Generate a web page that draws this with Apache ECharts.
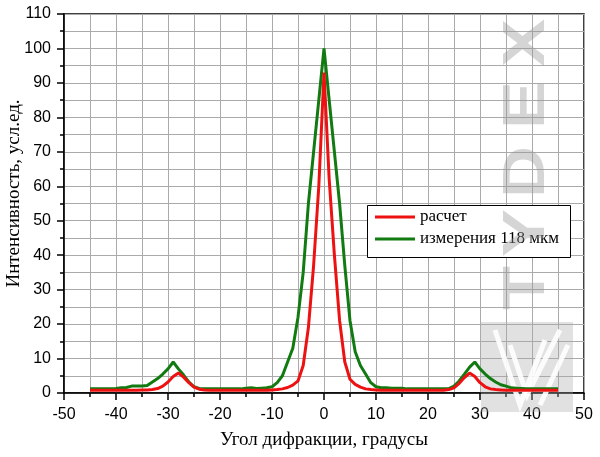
<!DOCTYPE html>
<html><head><meta charset="utf-8">
<script src="https://cdn.jsdelivr.net/npm/echarts@6/dist/echarts.min.js"></script>
<style>html,body{margin:0;padding:0;background:#fff}#c{width:600px;height:457px}</style>
</head><body><div id="c"></div>
<script>
const angles = [];
for (let a = -45; a <= 45; a++) angles.push(a);
const calcValues = [
 0.8,0.8,0.8,0.8,0.8,0.8,0.8,0.8,0.8,0.8,
 0.9,0.9,1.0,1.3,2.0,3.2,4.8,5.8,4.6,3.0,
 1.7,1.1,0.9,0.8,0.8,0.8,0.8,0.8,0.8,0.8,
 0.8,0.8,0.8,0.8,0.8,0.9,1.0,1.2,1.6,2.3,
 3.5,8,19,37,60,93,62,40,21,9,
 4.0,2.5,1.7,1.2,1.0,0.9,0.8,0.8,0.8,0.8,
 0.8,0.8,0.8,0.8,0.8,0.8,0.8,0.8,0.8,1.0,
 1.5,2.8,4.5,5.8,4.8,3.0,1.8,1.2,1.0,0.9,
 0.8,0.8,0.8,0.8,0.8,0.8,0.8,0.8,0.8,0.8,0.8
];
const measValues = [
 1.2,1.2,1.2,1.2,1.2,1.3,1.5,1.6,2.0,2.0,
 2.0,2.2,3.2,4.2,5.5,7.0,9.0,7.0,5.2,3.2,
 1.8,1.3,1.2,1.2,1.2,1.2,1.2,1.2,1.2,1.2,
 1.4,1.5,1.3,1.4,1.5,1.8,3.0,5.0,9.0,13,
 22,35,55,70,85,100,85,70,55,37,
 21,12,8,5.5,3.0,1.8,1.5,1.5,1.4,1.4,
 1.4,1.2,1.2,1.2,1.2,1.2,1.2,1.2,1.2,1.3,
 2.0,3.5,5.5,7.5,9.0,7.0,5.5,4.2,3.2,2.4,
 2.0,1.5,1.4,1.3,1.2,1.2,1.2,1.2,1.2,1.2,1.2
];
const seriesNames = ['расчет', 'измерения 118 мкм'];
const xTitle = 'Угол дифракции, градусы';
const yTitle = 'Интенсивность, усл.ед.';
const watermark = 'TYDEX';

const sans = 'Liberation Sans, Arial, sans-serif';
const serif = 'Liberation Serif, Times New Roman, serif';
const pair = v => angles.map((a, i) => [a, v[i]]);

const letterY = [288, 233, 172, 105, 43];
const wm = watermark.split('').map((ch, i) => ({
  type: 'text', id: 'wm' + i, z: 6, z2: 10, silent: true,
  x: 527, y: letterY[i], rotation: Math.PI / 2, scaleX: 1.2,
  style: { text: ch, font: 'bold 60px ' + sans, fill: 'rgba(150,150,150,0.4)', align: 'center', verticalAlign: 'middle' }
}));

const chart = echarts.init(document.getElementById('c'), null, { renderer: 'canvas' });
chart.setOption({
  animation: false,
  backgroundColor: '#fff',
  grid: { left: 64, right: 16, top: 14, bottom: 64, outerBoundsMode: 'none', containLabel: false,
          show: true, borderColor: '#000', borderWidth: 1.5, backgroundColor: 'transparent' },
  legend: {
    orient: 'vertical', left: 367, top: 205, z: 6,
    padding: [2, 4, 9, 8], itemGap: 2, itemWidth: 40, itemHeight: 3, icon: 'rect',
    backgroundColor: 'transparent', borderWidth: 0,
    textStyle: { fontFamily: serif, fontSize: 17, color: '#000', lineHeight: 20 },
    data: seriesNames
  },
  xAxis: {
    type: 'value', min: -50, max: 50, interval: 10,
    name: xTitle, nameLocation: 'middle', nameGap: 38,
    nameTextStyle: { fontFamily: serif, fontSize: 19, color: '#000' },
    axisLine: { onZero: false, lineStyle: { color: '#000', width: 1.5 } },
    axisTick: { show: true, length: 7, lineStyle: { color: '#000', width: 1.5 } },
    minorTick: { show: true, splitNumber: 2, length: 4, lineStyle: { color: '#000', width: 1.5 } },
    axisLabel: { fontFamily: sans, fontSize: 16, color: '#000', margin: 14 },
    splitLine: { show: true, lineStyle: { color: '#aaa', width: 1 } },
    minorSplitLine: { show: true, lineStyle: { color: '#aaa', width: 1 } }
  },
  yAxis: {
    type: 'value', min: 0, max: 110, interval: 10,
    name: yTitle, nameLocation: 'middle', nameGap: 40, nameMoveOverlap: false,
    nameTextStyle: { fontFamily: serif, fontSize: 19, color: '#000', padding: [0, 0, 0, 20] },
    axisLine: { onZero: false, lineStyle: { color: '#000', width: 1.5 } },
    axisTick: { show: true, length: 7, lineStyle: { color: '#000', width: 1.5 } },
    minorTick: { show: true, splitNumber: 2, length: 4, lineStyle: { color: '#000', width: 1.5 } },
    axisLabel: { fontFamily: sans, fontSize: 16, color: '#000', margin: 13 },
    splitLine: { show: true, lineStyle: { color: '#aaa', width: 1 } },
    minorSplitLine: { show: true, lineStyle: { color: '#aaa', width: 1 } }
  },
  graphic: [
    ...wm,
    { type: 'rect', id: 'legendBox', z: 5, z2: 1, silent: true, shape: { x: 367.5, y: 205.5, width: 203, height: 52 }, style: { fill: '#fff', stroke: '#000', lineWidth: 1 } },
    { type: 'rect', z: 1, silent: true, shape: { x: 481, y: 322, width: 92, height: 90 }, style: { fill: 'rgba(170,170,170,0.35)' } },
    { type: 'polyline', z: 1, silent: true, shape: { points: [[495, 330], [520, 405], [545, 340]] }, style: { stroke: 'rgba(255,255,255,0.9)', lineWidth: 5, fill: null } },
    { type: 'polyline', z: 1, silent: true, shape: { points: [[510, 345], [527, 395], [560, 330]] }, style: { stroke: 'rgba(255,255,255,0.9)', lineWidth: 5, fill: null } },
    { type: 'polyline', z: 1, silent: true, shape: { points: [[540, 405], [568, 345]] }, style: { stroke: 'rgba(255,255,255,0.9)', lineWidth: 5, fill: null } }
  ],
  series: [
    { name: seriesNames[0], type: 'line', data: pair(calcValues), showSymbol: false, symbol: 'none', z: 4,
      lineStyle: { color: '#ee1111', width: 3 }, itemStyle: { color: '#ee1111' } },
    { name: seriesNames[1], type: 'line', data: pair(measValues), showSymbol: false, symbol: 'none', z: 3,
      lineStyle: { color: '#117a11', width: 3 }, itemStyle: { color: '#117a11' } }
  ]
});
</script></body></html>
